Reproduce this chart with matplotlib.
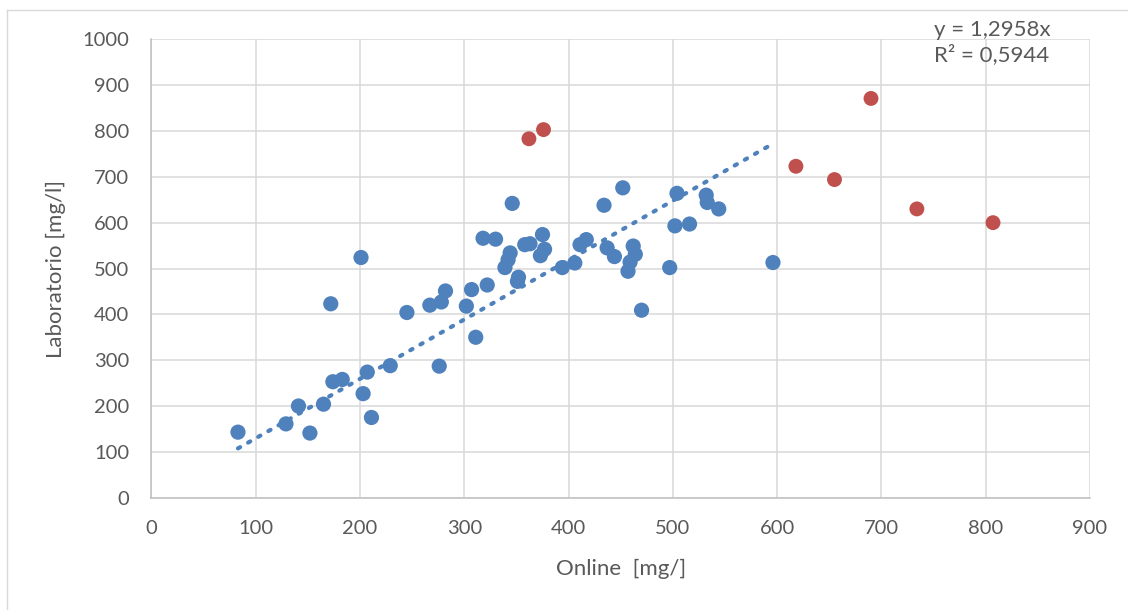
import matplotlib
matplotlib.use("Agg")
import matplotlib.pyplot as plt
from matplotlib.lines import Line2D
import numpy as np

# Punti "normali" (blu): Online vs Laboratorio
online = [83, 129, 141, 152, 165, 172, 174, 183, 201, 203, 207, 211, 229, 245,
          267, 276, 278, 282, 302, 307, 311, 318, 322, 330, 339, 342, 344, 346,
          351, 352, 358, 363, 375, 377, 373, 394, 406, 411, 417, 434, 437, 444,
          452, 462, 464, 459, 457, 470, 497, 502, 504, 516, 532, 533, 544, 596]
lab = [143, 161, 200, 141, 204, 423, 253, 258, 524, 227, 274, 175, 288, 404,
       420, 287, 427, 451, 418, 454, 350, 566, 464, 564, 502, 519, 534, 642,
       472, 481, 552, 554, 574, 542, 528, 502, 512, 552, 563, 638, 545, 526,
       676, 549, 531, 514, 494, 409, 502, 593, 664, 597, 660, 644, 630, 513]

# Punti anomali (rossi)
online_out = [362, 376, 618, 655, 690, 734, 807]
lab_out = [783, 803, 723, 694, 871, 630, 600]

slope = 1.2958
eq_text = "y = 1,2958x\nR² = 0,5944"

blue = "#4F81BD"
red = "#C0504D"
grey = "#595959"

plt.rcParams['font.family'] = ['Lato', 'DejaVu Sans']

W, H = 1128, 610
fig = plt.figure(figsize=(W / 100, H / 100), dpi=100)
ax = fig.add_axes([151.4 / W, 1 - 497.7 / H, (1090 - 151.4) / W, (497.7 - 39.3) / H])

ax.set_xlim(0, 900)
ax.set_ylim(0, 1000)
ax.set_xticks(np.arange(0, 901, 100))
ax.set_yticks(np.arange(0, 1001, 100))
ax.grid(True, color="#D9D9D9", linewidth=1.1)
ax.set_axisbelow(True)
for s in ["top", "right"]:
    ax.spines[s].set_visible(False)
for s in ["left", "bottom"]:
    ax.spines[s].set_color("#BFBFBF")
    ax.spines[s].set_linewidth(1.1)
ax.tick_params(length=0, labelsize=14.5, labelcolor=grey, pad=16)

# linea di tendenza (passante per l'origine) sul range dei punti blu
xt = np.array([min(online), max(online)])
ax.plot(xt, slope * xt, linestyle=(0, (0.6, 2.2)), color=blue, linewidth=3,
        dash_capstyle="round", zorder=2)

ax.scatter(online, lab, s=120, color=blue, edgecolors="none", zorder=3)
ax.scatter(online_out, lab_out, s=115, color=red, edgecolors="none", zorder=3)

ax.set_xlabel("Online  [mg/]", fontsize=16, color=grey, labelpad=16)
ax.set_ylabel("Laboratorio [mg/l]", fontsize=16, color=grey, labelpad=12)

fig.text(934 / W, 1 - 20 / H, eq_text, fontsize=16, color=grey,
         ha="left", va="top", linespacing=1.25)

# bordo dell'area grafico
fig.add_artist(Line2D([7 / W, 1], [1 - 10 / H, 1 - 10 / H], color="#D9D9D9", linewidth=1))
fig.add_artist(Line2D([7 / W, 7 / W], [0, 1 - 10 / H], color="#D9D9D9", linewidth=1))

fig.savefig("out.png", dpi=100)
